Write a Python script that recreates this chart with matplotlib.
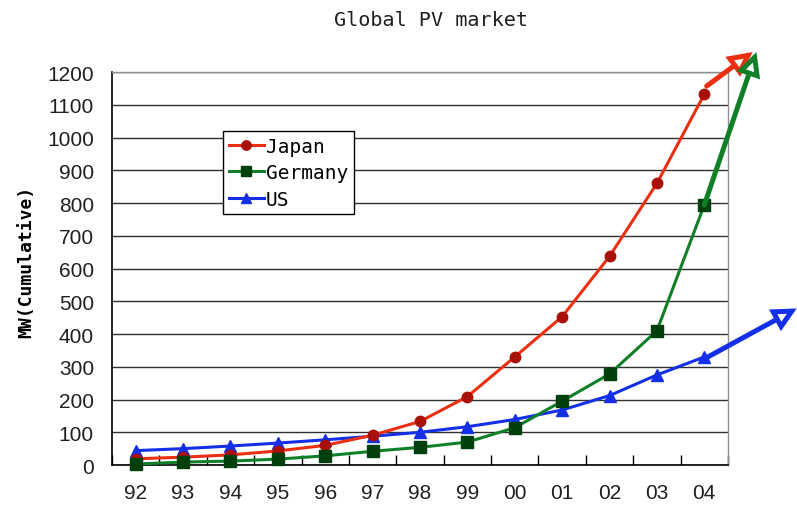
import matplotlib
matplotlib.use('Agg')
import matplotlib.pyplot as plt
import numpy as np

# 累计装机容量 (MW)
years = ['92', '93', '94', '95', '96', '97', '98', '99', '00', '01', '02', '03', '04']
japan = [19, 24, 31, 43, 60, 91, 133, 209, 330, 453, 637, 860, 1132]
germany = [3, 9, 12, 18, 28, 42, 54, 70, 114, 195, 278, 410, 794]
us = [44, 50, 58, 67, 77, 88, 100, 117, 139, 168, 212, 275, 330]

# 趋势箭头 (起点, 终点)
japan_arrow = [(12.05, 1157), (13.02, 1261)]
germany_arrow = [(12.0, 794), (13.1, 1261)]
us_arrow = [(11.95, 320), (13.95, 478)]

tick_font = ['Liberation Sans', 'DejaVu Sans']
mono_font = ['DejaVu Sans Mono', 'DejaVu Sans']

fig = plt.figure(figsize=(7.97, 5.06), dpi=100)
ax = fig.add_axes([0.1405, 0.079, 0.7729, 0.7767])

x = np.arange(len(years))

ax.plot(x, us, color='#1430E6', lw=2.2, marker='^', markersize=8,
        markerfacecolor='#1430E6', markeredgecolor='#1430E6', label='US',
        clip_on=False, zorder=3)
ax.plot(x, japan, color='#EA3010', lw=2.2, marker='o', markersize=7.5,
        markerfacecolor='#A81008', markeredgecolor='#A81008', label='Japan',
        clip_on=False, zorder=4)
ax.plot(x, germany, color='#108028', lw=2.2, marker='s', markersize=8,
        markerfacecolor='#00400C', markeredgecolor='#00400C', label='Germany',
        clip_on=False, zorder=5)

# 箭头
for pts, col in [(japan_arrow, '#EA3010'), (germany_arrow, '#108028'), (us_arrow, '#1430E6')]:
    ax.annotate('', xy=pts[1], xytext=pts[0], xycoords='data',
                annotation_clip=False,
                arrowprops=dict(arrowstyle='-|>,head_length=1.2,head_width=0.6',
                                mutation_scale=10, lw=3.6, ec=col, fc='white',
                                shrinkA=0, shrinkB=0, joinstyle='miter'),
                zorder=6)

ax.set_xlim(-0.5, 12.5)
ax.set_ylim(0, 1200)
ax.set_yticks(np.arange(0, 1201, 100))
ax.set_xticks(x)
ax.set_xticklabels(years)
ax.set_xticks(np.arange(-0.5, 12.6, 1), minor=True)
ax.tick_params(axis='x', which='major', length=0, pad=13)
ax.tick_params(axis='x', which='minor', direction='in', length=7, width=1, color='black')
ax.tick_params(axis='y', length=0, pad=13)
for lab in ax.get_xticklabels() + ax.get_yticklabels():
    lab.set_family(tick_font)
    lab.set_fontsize(15)
    lab.set_color('#202020')

ax.yaxis.grid(True, color='#303030', lw=1)
ax.set_axisbelow(True)
for lbl in ['top', 'right']:
    ax.spines[lbl].set_color('#909090')
    ax.spines[lbl].set_linewidth(1)
ax.spines['left'].set_color('black')
ax.spines['bottom'].set_color('black')
ax.spines['left'].set_linewidth(1.2)
ax.spines['bottom'].set_linewidth(1.2)

ax.set_ylabel('MW(Cumulative)', family=mono_font, fontweight='bold', fontsize=13)
ax.yaxis.set_label_coords(-0.125, 0.52)

handles, labels = ax.get_legend_handles_labels()
order = [1, 2, 0]
leg = ax.legend([handles[i] for i in order], [labels[i] for i in order],
                loc='upper left', bbox_to_anchor=(0.18, 0.85), borderaxespad=0,
                prop={'family': mono_font, 'size': 14}, frameon=True,
                fancybox=False, framealpha=1, edgecolor='black',
                handlelength=1.8, handletextpad=0.1, labelspacing=0.38,
                borderpad=0.3, markerscale=0.9)
leg.get_frame().set_linewidth(1)

fig.text(0.541, 0.96, 'Global PV market', family=mono_font, fontsize=14.5,
         ha='center', va='center', color='#202020')

fig.savefig('out.png', dpi=100)
